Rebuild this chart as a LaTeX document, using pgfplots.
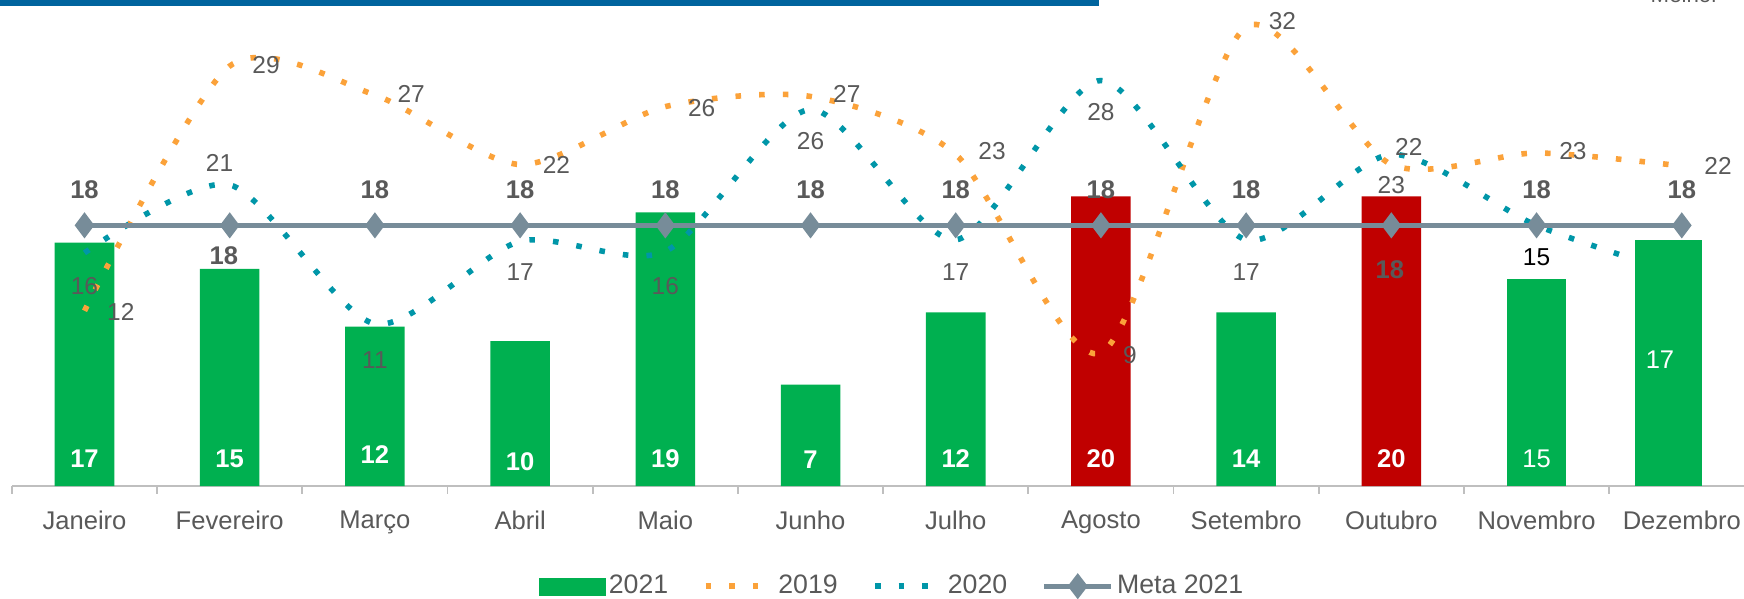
\documentclass[border=0pt]{standalone}
\usepackage{pgfplots}
\pgfplotsset{compat=1.18}
\usepackage{fontspec}
\setmainfont{Liberation Sans}
\definecolor{bargreen}{HTML}{00B050}
\definecolor{barred}{HTML}{C00000}
\definecolor{or19}{HTML}{FBA23A}
\definecolor{te20}{HTML}{0096A8}
\definecolor{metac}{HTML}{778C99}
\definecolor{txt}{HTML}{595959}
\definecolor{axgrey}{HTML}{BFBFBF}
\definecolor{topblue}{HTML}{00649E}
\begin{document}
\begin{tikzpicture}
\begin{axis}[
  at={(0,0)}, anchor=south west,
  scale only axis, width=783.3pt, height=218.5pt,
  xmin=-0.5, xmax=11.5, ymin=0, ymax=33.56,
  axis y line=none,
  axis x line*=bottom,
  x axis line style={draw=axgrey, line width=0.8pt, -},
  xtick={0,1,2,3,4,5,6,7,8,9,10,11},
  xticklabels={Janeiro,Fevereiro,Março,Abril,Maio,Junho,Julho,Agosto,Setembro,Outubro,Novembro,Dezembro},
  major tick length=0pt,
  minor xtick={-0.5,0.5,1.5,2.5,3.5,4.5,5.5,6.5,7.5,8.5,9.5,10.5,11.5},
  minor tick length=3.5pt, tick align=outside,
  minor tick style={draw=axgrey, line width=0.8pt},
  xticklabel style={font=\fontsize{11.5}{13}\selectfont, text=txt, yshift=-7.5pt},
  clip=false,
  legend columns=4,
  legend style={at={(0.5055,-0.206)}, anchor=center, draw=none, fill=none,
    font=\fontsize{12}{14}\selectfont, text=txt, inner sep=0pt,
    nodes={inner sep=1.5pt},
    /tikz/every even column/.append style={column sep=14pt}},
]
% 2021 bars (green)
\addplot[ybar, bar width=0.41, bar shift=0pt, fill=bargreen, draw=none,
  legend image code/.code={\fill[bargreen] (0pt,-4.5pt) rectangle (30pt,3.5pt);}]
  coordinates {(0,16.8) (1,15) (2,11) (3,10) (4,18.9) (5,7) (6,12) (8,12)};
\addlegendentry{2021}
% 2021 bars (red, above goal)
\addplot[ybar, bar width=0.41, bar shift=0pt, fill=barred, draw=none, forget plot]
  coordinates {(7,20) (9,20)};
% 2019
\addplot[or19, line width=2.5pt, dash pattern=on 2.5pt off 8.15pt, smooth, tension=0.45,
  legend image code/.code={\draw[or19, line width=2.5pt, dash pattern=on 2.5pt off 8.15pt] (0pt,0pt) -- (30pt,0pt);}]
  coordinates {(0,12.1) (1,29.0) (2,27.0) (3,22.2) (4,26.2) (5,26.9) (6,22.9) (7,9.2) (8,31.7) (9,22.2) (10,23.0) (11,22.1)};
\addlegendentry{2019}
% 2020
\addplot[te20, line width=2.5pt, dash pattern=on 2.5pt off 8.15pt, smooth, tension=0.45,
  legend image code/.code={\draw[te20, line width=2.5pt, dash pattern=on 2.5pt off 8.15pt] (0pt,0pt) -- (30pt,0pt);}]
  coordinates {(0,16.1) (1,20.8) (2,11.2) (3,16.9) (4,16.2) (5,26.0) (6,17.0) (7,28.0) (8,17.0) (9,22.9) (10,18.0) (11,14.6)};
\addlegendentry{2020}
% Meta 2021
\addplot[metac, line width=2.4pt, mark=diamond*, mark size=3.9pt, mark options={solid, fill=metac, draw=none},
  legend image code/.code={\draw[metac, line width=2.4pt] (0pt,0pt) -- (30pt,0pt);
     \fill[metac] (15pt,3.9pt) -- (18pt,0pt) -- (15pt,-3.9pt) -- (12pt,0pt) -- cycle;}]
  coordinates {(0,18) (1,18) (2,18) (3,18) (4,18) (5,18) (6,18) (7,18) (8,18) (9,18) (10,18) (11,18)};
\addlegendentry{Meta 2021}
% Nov / Dez bars drawn on top
\addplot[ybar, bar width=0.41, bar shift=0pt, fill=bargreen, draw=none, forget plot]
  coordinates {(10,14.3)};
\addplot[ybar, bar width=0.46, bar shift=0pt, fill=bargreen, draw=none, forget plot]
  coordinates {(10.91,17)};

% meta labels (Feb and Oct labels are placed lower, see below)
\foreach \i in {0,2,3,4,5,6,7,8,10,11} {
  \edef\temp{\noexpand\node[font=\noexpand\fontsize{11.5}{13}\noexpand\selectfont\noexpand\bfseries, text=txt] at (axis cs:\i,20.44) {18};}
  \temp
}
% grey value labels
\begin{scope}[every node/.style={font=\fontsize{11}{13}\selectfont, text=txt, inner sep=0pt}]
\node at (axis cs:1.25,29.1) {29};
\node at (axis cs:2.25,27.1) {27};
\node at (axis cs:3.25,22.2) {22};
\node at (axis cs:0.93,22.3) {21};
\node at (axis cs:0,13.8) {16};
\node at (axis cs:0.25,12.0) {12};
\node at (axis cs:3.0,14.8) {17};
\node at (axis cs:2.0,8.7) {11};
\node at (axis cs:4.25,26.1) {26};
\node at (axis cs:5.0,23.85) {26};
\node at (axis cs:5.25,27.1) {27};
\node at (axis cs:6.25,23.1) {23};
\node at (axis cs:7.0,25.85) {28};
\node at (axis cs:4.0,13.8) {16};
\node at (axis cs:6.0,14.8) {17};
\node at (axis cs:8.25,32.1) {32};
\node at (axis cs:9.12,23.4) {22};
\node at (axis cs:9.0,20.8) {23};
\node at (axis cs:10.25,23.1) {23};
\node at (axis cs:11.25,22.1) {22};
\node at (axis cs:8.0,14.8) {17};
\node at (axis cs:7.2,9.05) {9};
\node[text=black] at (axis cs:10.0,15.8) {15};
\end{scope}
\begin{scope}[every node/.style={font=\fontsize{11.5}{13}\selectfont\bfseries, text=txt, inner sep=0pt}]
\node at (axis cs:0.96,15.9) {18};
\node at (axis cs:8.99,14.97) {18};
\end{scope}
% white labels inside bars
\begin{scope}[every node/.style={font=\fontsize{11.5}{13}\selectfont\bfseries, text=white, inner sep=0pt}]
\node at (axis cs:0,1.9) {17};
\node at (axis cs:1,1.9) {15};
\node at (axis cs:2,2.2) {12};
\node at (axis cs:3,1.7) {10};
\node at (axis cs:4,1.9) {19};
\node at (axis cs:5,1.85) {7};
\node at (axis cs:6,1.9) {12};
\node at (axis cs:7,1.9) {20};
\node at (axis cs:8,1.9) {14};
\node at (axis cs:9,1.9) {20};
\end{scope}
\begin{scope}[every node/.style={font=\fontsize{11.5}{13}\selectfont, text=white, inner sep=0pt}]
\node at (axis cs:10,1.85) {15};
\node at (axis cs:10.85,8.75) {17};
\end{scope}
\end{axis}
\fill[topblue] (-5.35pt,215.8pt) rectangle (488.65pt,218.5pt);
\node[anchor=base, text=txt, font=\fontsize{10}{12}\selectfont, inner sep=0pt] at (752pt,217.2pt) {Melhor};
\pgfresetboundingbox
\useasboundingbox (-5.35pt,-50.5pt) rectangle (778.65pt,218.5pt);
\end{tikzpicture}
\end{document}
